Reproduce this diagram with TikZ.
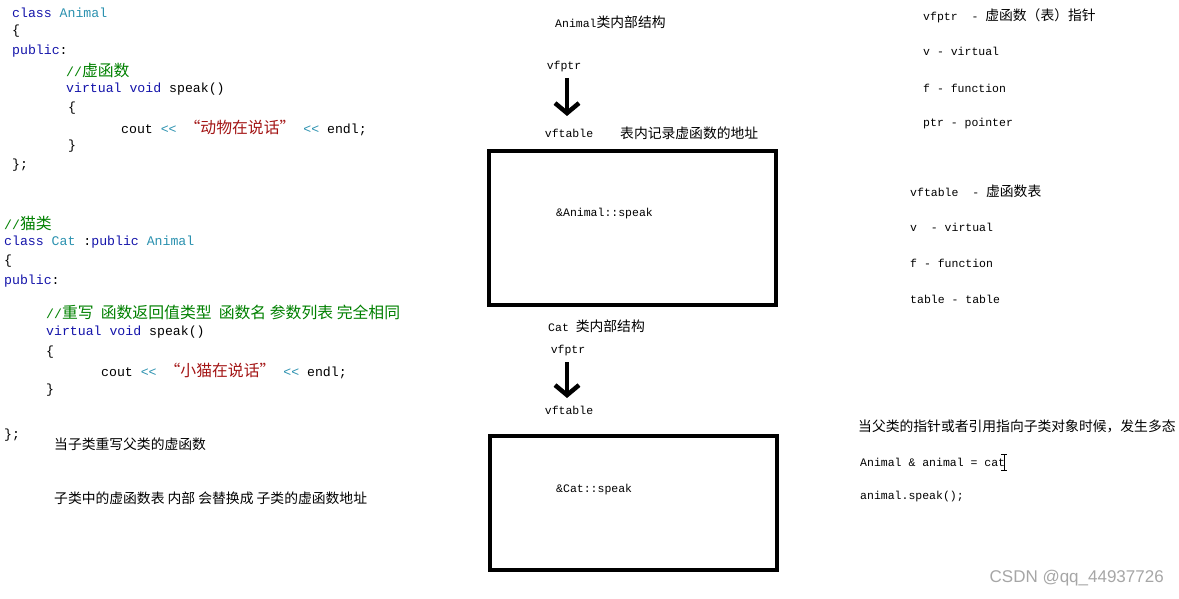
\documentclass[tikz,border=0pt]{standalone}
\usepackage{fontspec}
\setmonofont{Liberation Mono}
\setmainfont{Liberation Mono}
\newfontfamily\cjk[Scale=1.2]{Noto Sans CJK SC}
\newfontfamily\sansf{Liberation Sans}
\newcommand\zh[1]{{\cjk #1}}
\usetikzlibrary{arrows.meta}
\definecolor{kw}{RGB}{20,20,170}
\definecolor{ty}{RGB}{43,145,175}
\definecolor{cm}{RGB}{0,128,0}
\definecolor{st}{RGB}{163,21,21}
\begin{document}
\begin{tikzpicture}[x=1pt,y=-1pt,
  code/.style={anchor=west,inner sep=0pt,font=\fontsize{13.2}{15}\selectfont},
  note/.style={anchor=west,inner sep=0pt,font=\fontsize{11.5}{13}\selectfont},
  tbl/.style={draw,line width=4pt},
  bigarrow/.style={line width=4.5pt,-{Straight Barb[length=10pt,width=24pt,line width=4.5pt]}}]
\useasboundingbox (0,0) rectangle (1179,599);
% left code
\node[code] (a1) at (12,13) {\textcolor{kw}{class} \textcolor{ty}{Animal}};
\node[code] (a2) at (12,31) {\{};
\node[code] (a3) at (12,51) {\textcolor{kw}{public}:};
\node[code] (a4) at (66,70) {\textcolor{cm}{//\zh{虚函数}}};
\node[code] (a5) at (66,89) {\textcolor{kw}{virtual void} speak()};
\node[code] (a6) at (68,108) {\{};
\node[code] (a7) at (121,128) {cout \textcolor{ty}{<{}<} \textcolor{st}{\zh{“动物在说话”}} \textcolor{ty}{<{}<} endl;};
\node[code] (a8) at (68,146) {\}};
\node[code] (a9) at (12,165) {\};};
\node[code] (c1) at (4,223) {\textcolor{cm}{//\zh{猫类}}};
\node[code] (c2) at (4,242) {\textcolor{kw}{class} \textcolor{ty}{Cat} :\textcolor{kw}{public} \textcolor{ty}{Animal}};
\node[code] (c3) at (4,261) {\{};
\node[code] (c4) at (4,281) {\textcolor{kw}{public}:};
\node[code] (c5) at (46,312) {\textcolor{cm}{//\zh{重写\ \ 函数返回值类型\ \ 函数名 参数列表 完全相同}}};
\node[code] (c6) at (46,332) {\textcolor{kw}{virtual void} speak()};
\node[code] (c7) at (46,352) {\{};
\node[code] (c8) at (101,371) {cout \textcolor{ty}{<{}<} \textcolor{st}{\zh{“小猫在说话”}} \textcolor{ty}{<{}<} endl;};
\node[code] (c9) at (46,390) {\}};
\node[code] (c10) at (4,435) {\};};
\node[note] (n1) at (54,444) {\zh{当子类重写父类的虚函数}};
\node[note] (n2) at (54,498) {\zh{子类中的虚函数表 内部 会替换成 子类的虚函数地址}};
% middle Animal
\node[note] (m1) at (555,22) {Animal\zh{类内部结构}};
\node[note,anchor=center] (p1) at (564,67) {vfptr};
\node[note,anchor=center] (t1) at (569,133) {vftable};
\node[note] (m2) at (620,133) {\zh{表内记录虚函数的地址}};
\draw[bigarrow] (567,78) -- (567,116);
\draw[tbl] (489,151) rectangle (776,305);
\node[note] (e1) at (556,214) {\&Animal::speak};
% middle Cat
\node[note] (m3) at (548,326) {Cat \zh{类内部结构}};
\node[note,anchor=center] (p2) at (568,351) {vfptr};
\node[note,anchor=center] (t2) at (569,410) {vftable};
\draw[bigarrow] (567,362) -- (567,398);
\draw[tbl] (490,436) rectangle (777,570);
\node[note] (e2) at (556,490) {\&Cat::speak};
% right
\node[note] (r1) at (923,16) {vfptr\ \ - \zh{虚函数（表）指针}};
\node[note] (r2) at (923,51) {v - virtual};
\node[note] (r3) at (923,88) {f - function};
\node[note] (r4) at (923,124) {ptr - pointer};
\node[note] (r5) at (910,191) {vftable\ \ - \zh{虚函数表}};
\node[note] (r6) at (910,227) {v\ \ - virtual};
\node[note] (r7) at (910,263) {f - function};
\node[note] (r8) at (910,299) {table - table};
\node[note] (r9) at (858,426) {\zh{当父类的指针或者引用指向子类对象时候，发生多态}};
\node[note] (r10) at (860,462) {Animal \& animal = cat};
\draw[line width=0.8pt] (1004,454) -- (1004,470) (1001,454) -- (1007,454) (1001,470) -- (1007,470);
\node[note] (r11) at (860,497) {animal.speak();};
\node[anchor=east,inner sep=0pt,font=\sansf\fontsize{17}{19}\selectfont,text=gray!70] (wm) at (1164,578) {CSDN @qq\_44937726};
\end{tikzpicture}
\end{document}
